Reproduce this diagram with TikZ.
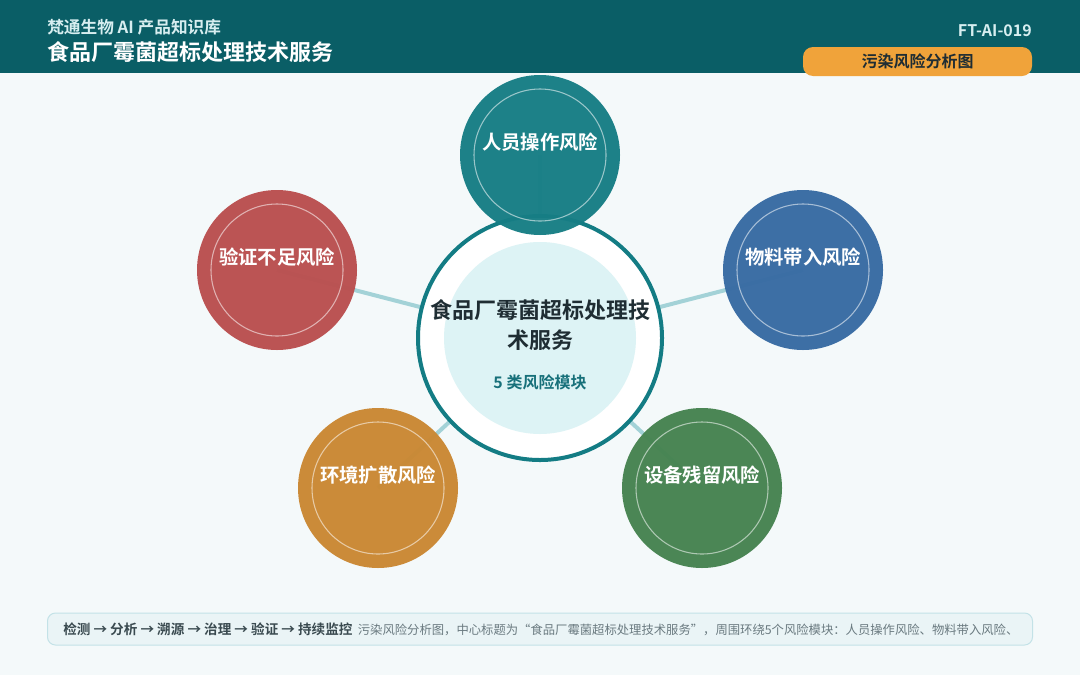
\documentclass[tikz,border=0pt]{standalone}
\usepackage{fontspec}
\setmainfont{Noto Sans CJK SC}[BoldFont={Noto Sans CJK SC Bold}]
\usetikzlibrary{positioning}

\definecolor{pagebg}{HTML}{F4F9FA}
\definecolor{headbg}{HTML}{0A5E66}
\definecolor{headtxt}{HTML}{D7EEF0}
\definecolor{pill}{HTML}{F0A33A}
\definecolor{ink}{HTML}{1F2D33}
\definecolor{hubring}{HTML}{137C84}
\definecolor{hubfill}{HTML}{DDF3F5}
\definecolor{subtxt}{HTML}{17707A}
\definecolor{linkc}{HTML}{A3D2D7}
\definecolor{rteal}{HTML}{177E85}
\definecolor{rblue}{HTML}{386BA3}
\definecolor{rred}{HTML}{BA4F4F}
\definecolor{rorange}{HTML}{CA8833}
\definecolor{rgreen}{HTML}{468350}
\definecolor{notebg}{HTML}{EAF4F6}
\definecolor{noteline}{HTML}{C3E2E7}
\definecolor{notebold}{HTML}{3A4A50}
\definecolor{notetxt}{HTML}{6A7A80}

\pgfdeclarelayer{bg}
\pgfdeclarelayer{links}
\pgfsetlayers{bg,links,main}

\tikzset{>=latex}
\tikzset{
  risk/.style={circle, inner sep=0pt, outer sep=0pt, minimum size=120pt, fill opacity=0.97},
  riskring/.style={circle, inner sep=0pt, minimum size=99pt, draw=white, draw opacity=0.55, line width=0.8pt},
  risklabel/.style={text=white, font=\fontsize{14.5}{17}\selectfont\bfseries},
  link/.style={draw=linkc, line width=3pt},
}

\begin{document}
\begin{tikzpicture}[x=0.75pt, y=-0.75pt]
  \useasboundingbox (0,0) rectangle (1080,675);
  \begin{pgfonlayer}{bg}
    \fill[pagebg] (0,0) rectangle (1080,675);
    \fill[headbg] (0,0) rectangle (1080,73);
  \end{pgfonlayer}

  % header
  \node (brand) [anchor=west, text=headtxt, inner sep=0pt,
    font=\fontsize{12.5}{14}\selectfont\bfseries] at (47,27) {梵通生物 AI 产品知识库};
  \node (title) [anchor=west, text=white, inner sep=0pt,
    font=\fontsize{16.5}{19}\selectfont\bfseries] at (47,52) {食品厂霉菌超标处理技术服务};
  \node (code) [anchor=east, text=headtxt, inner sep=0pt,
    font=\fontsize{12}{14}\selectfont\bfseries] at (1032,31) {FT-AI-019};
  \node (tag) [fill=pill, rounded corners=7.5pt, minimum width=171.75pt, minimum height=21.75pt,
    inner sep=0pt, text=ink, font=\fontsize{12}{14}\selectfont\bfseries] at (917.5,61.5) {污染风险分析图};

  % hub
  \node (hub) [circle, inner sep=0pt, minimum size=183pt, draw=hubring, line width=3pt, fill=white] at (540,338) {};
  \node (hubin) [circle, inner sep=0pt, minimum size=144pt, fill=hubfill] at (hub) {};
  \node (hubtitle) [align=center, text=ink, font=\fontsize{16.5}{22.5}\selectfont\bfseries] at (540,325)
    {食品厂霉菌超标处理技\\术服务};
  \node (hubsub) [text=subtxt, font=\fontsize{12}{14}\selectfont\bfseries] at (540,382) {5 类风险模块};

  % risk modules
  \foreach \n/\x/\y/\c/\t in {1/540/155/rteal/人员操作风险,
                              2/803/270/rblue/物料带入风险,
                              3/702/488/rgreen/设备残留风险,
                              4/378/488/rorange/环境扩散风险,
                              5/277/270/rred/验证不足风险} {
    \node (r\n) [risk, fill=\c] at (\x,\y) {};
    \node (ring\n) [riskring] at (r\n) {};
    \node (lab\n) [risklabel] at (\x,\y-13) {\t};
    \begin{pgfonlayer}{links}
      \draw[link] (hub.center) -- (r\n.center);
    \end{pgfonlayer}
  }

  % footer note
  \node (note) [anchor=west, draw=noteline, fill=notebg, line width=0.75pt, rounded corners=6pt,
    minimum width=738.75pt, minimum height=24pt, inner sep=0pt] at (47,629) {};
  \node (notetext) [anchor=west, inner sep=0pt] at (63,629)
    {{\color{notebold}\fontsize{10.2}{12}\selectfont\bfseries 检测 → 分析 → 溯源 → 治理 → 验证 → 持续监控}\hspace{4pt}{\color{notetxt}\fontsize{9.25}{12}\selectfont 污染风险分析图，中心标题为“食品厂霉菌超标处理技术服务”，周围环绕5个风险模块：人员操作风险、物料带入风险、}};
\end{tikzpicture}
\end{document}
